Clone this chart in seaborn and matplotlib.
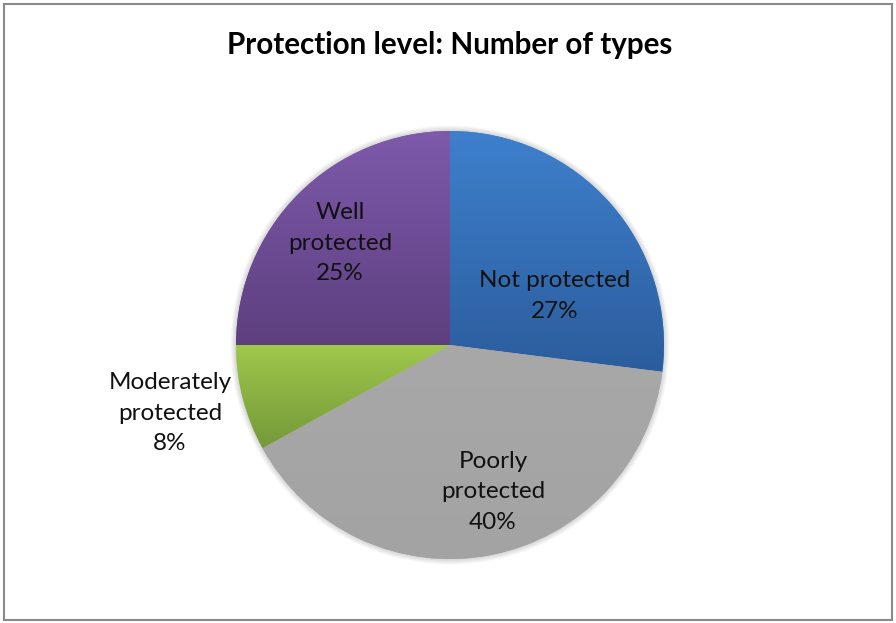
import numpy as np
import matplotlib
matplotlib.use("Agg")
import matplotlib.pyplot as plt
import matplotlib.colors as mcolors
from matplotlib.patches import Rectangle, Circle
import seaborn as sns

# Protection level shares (percent), clockwise from 12 o'clock
categories = ["Not protected", "Poorly protected", "Moderately protected", "Well protected"]
label_lines = ["Not protected\n27%", "Poorly\nprotected\n40%", "Moderately\nprotected\n8%", "Well\nprotected\n25%"]
shares = [27, 40, 8, 25]

# top/bottom gradient colours per slice
top_colors = ["#3e80cd", "#a8a8a8", "#9fc84b", "#7e5aab"]
bottom_colors = ["#2b5d9d", "#a3a3a3", "#74993a", "#5d3f7f"]

sns.set_theme(style="white")
plt.rcParams["font.family"] = ["Lato", "DejaVu Sans"]

W, H = 896, 623
fig = plt.figure(figsize=(W / 100, H / 100), dpi=100)
ax = fig.add_axes([0, 0, 1, 1])

cx, cy, R = 450, H - 345, 214

# soft shadow around the disc
for k in range(8, 0, -1):
    ax.add_patch(Circle((cx, cy), R + k * 0.7, facecolor="#000000",
                        alpha=0.018, edgecolor="none", zorder=0))

wedges, _ = ax.pie(shares, startangle=90, counterclock=False, center=(cx, cy),
                   radius=R, colors=top_colors, frame=True,
                   wedgeprops=dict(linewidth=0))

for w, c0, c1 in zip(wedges, top_colors, bottom_colors):
    ext = w.get_path().get_extents()
    cmap = mcolors.LinearSegmentedColormap.from_list("g", [c1, c0])
    grad = np.linspace(0, 1, 256).reshape(-1, 1)
    im = ax.imshow(grad, cmap=cmap, origin="lower", aspect="auto",
                   extent=[ext.x0, ext.x1, ext.y0, ext.y1], zorder=2,
                   interpolation="bilinear")
    im.set_clip_path(w)

ax.set_xlim(0, W)
ax.set_ylim(0, H)
ax.set_axis_off()

# slice labels
label_pos = [(555, 296), (493, 492), (170, 413), (340, 243)]
for txt, (x, y) in zip(label_lines, label_pos):
    ax.text(x, H - y, txt, ha="center", va="center", fontsize=17.5,
            color="#111111", linespacing=1.55, zorder=5)

ax.text(450, H - 45, "Protection level: Number of types", ha="center", va="center",
        fontsize=21.3, fontweight="bold", color="#000000", zorder=5)

fig.patches.append(Rectangle((3.5 / W, 3.5 / H), (W - 7.5) / W, (H - 7.5) / H,
                             transform=fig.transFigure, fill=False,
                             edgecolor="#8a8a8a", linewidth=1.5))

fig.savefig("out.png", dpi=100, facecolor="white")
